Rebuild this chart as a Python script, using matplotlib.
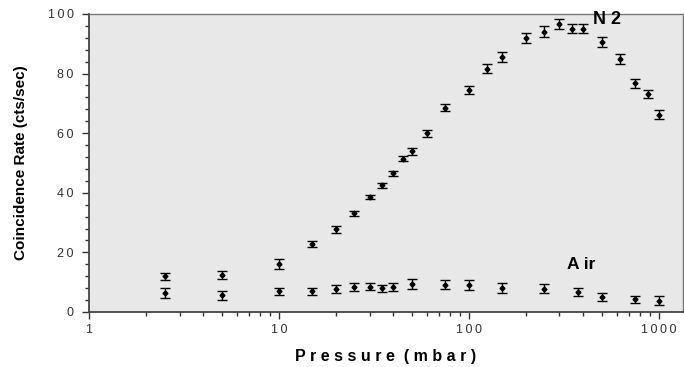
import matplotlib.pyplot as plt
import numpy as np

# N2 series
n2_p = [2.5, 5, 10, 15, 20, 25, 30, 35, 40, 45, 50, 60, 75, 100, 125, 150,
        200, 250, 300, 350, 400, 500, 625, 750, 875, 1000]
n2_rate = [11.9, 12.3, 16.1, 22.8, 27.7, 33.1, 38.7, 42.5, 46.5, 51.4, 53.9,
           60.0, 68.5, 74.5, 81.6, 85.5, 91.9, 94.0, 96.6, 95.1, 95.1, 90.6,
           84.8, 76.7, 73.2, 66.2]
n2_err = [1.1, 1.3, 1.8, 1.1, 1.2, 0.9, 0.7, 0.9, 0.9, 0.9, 1.1,
          1.2, 1.2, 1.4, 1.5, 1.6, 1.8, 1.9, 1.8, 1.6, 1.6, 1.6,
          1.6, 1.4, 1.3, 1.4]

# Air series
air_p = [2.5, 5, 10, 15, 20, 25, 30, 35, 40, 50, 75, 100, 150, 250, 375,
         500, 750, 1000]
air_rate = [6.3, 5.6, 6.9, 6.9, 7.6, 8.3, 8.5, 8.0, 8.3, 9.4, 9.2, 9.0,
            8.0, 7.8, 6.7, 4.9, 4.2, 3.8]
air_err = [1.7, 1.5, 1.3, 1.3, 1.4, 1.3, 1.3, 1.2, 1.3, 1.6, 1.4, 1.6,
           1.6, 1.6, 1.4, 1.3, 1.3, 1.4]

y_ticks = [0, 20, 40, 60, 80, 100]
x_ticks = [1, 10, 100, 1000]

plt.rcParams['font.family'] = ['Liberation Sans', 'DejaVu Sans']
TS = '\u2009'  # thin space for the spaced-out lettering


def spaced(s, sep=TS):
    return sep.join(s)


fig = plt.figure(figsize=(6.84, 3.67), dpi=100)
ax = fig.add_axes([0.130, 0.150, 0.8685, 0.812])
ax.set_facecolor('#e8e8e8')

for p, r, e in [(n2_p, n2_rate, n2_err), (air_p, air_rate, air_err)]:
    ax.errorbar(p, r, yerr=e, fmt='D', ms=2.5, color='black', ecolor='black',
                elinewidth=1, capsize=3.5, capthick=1)

ax.set_xscale('log')
ax.set_xlim(1, 1340)
ax.set_ylim(0, 100)

ax.set_yticks(y_ticks)
ax.set_yticklabels([spaced(str(v)) for v in y_ticks], fontsize=9, color='#333333')
ax.set_yticks(np.arange(0, 101, 4), minor=True)
ax.set_xticks(x_ticks)
ax.set_xticklabels([spaced(str(v)) for v in x_ticks], fontsize=9, color='#333333')
ax.tick_params(axis='both', which='major', direction='out', length=5, width=1,
               color='#333333', pad=4)
ax.tick_params(axis='y', which='major', pad=6)
ax.tick_params(axis='both', which='minor', direction='out', length=3, width=1,
               color='#333333')

for side in ['left', 'bottom']:
    ax.spines[side].set_color('#444444')
    ax.spines[side].set_linewidth(1.3)
for side in ['top', 'right']:
    ax.spines[side].set_color('#777777')
    ax.spines[side].set_linewidth(1.0)

ax.set_ylabel('Coincidence Rate (cts/sec)', fontsize=11, fontweight='bold', labelpad=14)
ax.set_xlabel(spaced('Pressure', ' ') + '  ' + spaced('(mbar)', ' '),
              fontsize=11.5, fontweight='bold', labelpad=9)

ax.text(450, 98, 'N ' + '2', fontsize=13, fontweight='bold', ha='left', va='center')
ax.text(328, 15.8, 'A ' + 'ir', fontsize=12.5, fontweight='bold', ha='left', va='center')

fig.savefig('out.png', dpi=100)
